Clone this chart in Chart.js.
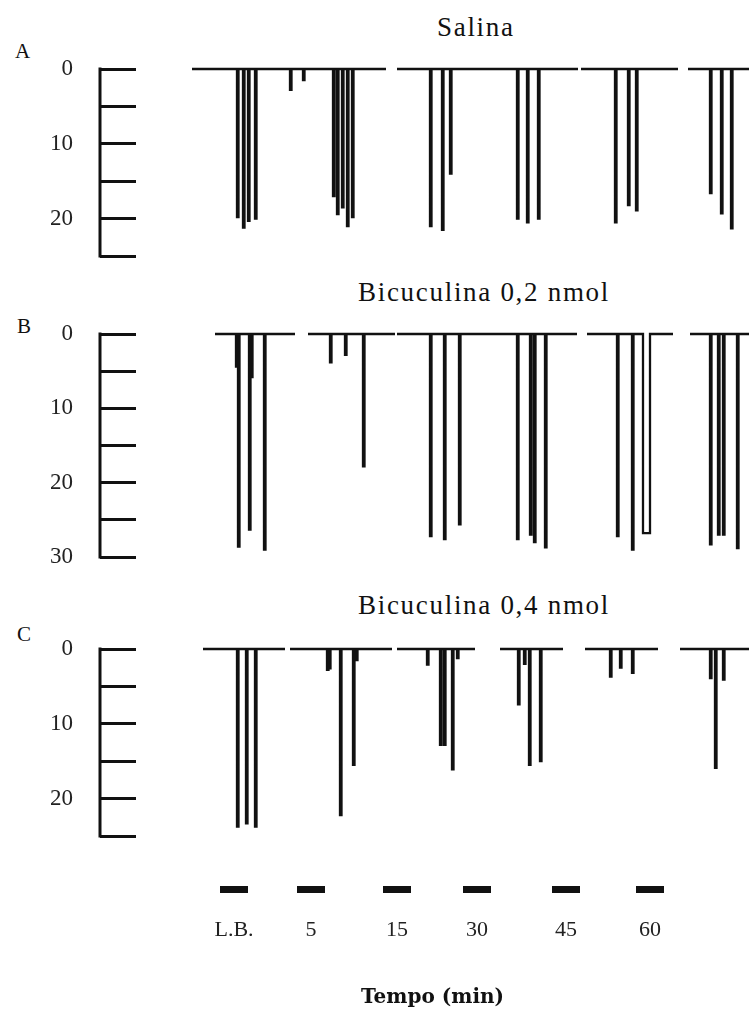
<!DOCTYPE html>
<html>
<head>
<meta charset="utf-8">
<script src="https://cdn.jsdelivr.net/npm/chart.js@4.4.0/dist/chart.umd.min.js"></script>
<style>
  body { margin: 0; background: #fff; width: 749px; height: 1019px; position: relative; overflow: hidden; font-family: 'Liberation Serif', serif; color: #111; }
  canvas { position: absolute; left: 0; }
  .letra { position: absolute; font-size: 21px; line-height: 1; }
  .titulo { position: absolute; font-size: 27px; line-height: 1; letter-spacing: 1.7px; white-space: nowrap; }
</style>
</head>
<body>
<div class="letra" style="left:15px;top:41px">A</div>
<div class="letra" style="left:17px;top:316px">B</div>
<div class="letra" style="left:17px;top:624px">C</div>
<div class="titulo" style="left:437px;top:14px">Salina</div>
<div class="titulo" style="left:358px;top:279px">Bicuculina 0,2 nmol</div>
<div class="titulo" style="left:358px;top:592px">Bicuculina 0,4 nmol</div>

<canvas id="graficoA" width="749" height="297" style="top:0"></canvas>
<canvas id="graficoB" width="749" height="328" style="top:270px"></canvas>
<canvas id="graficoC" width="749" height="297" style="top:580px"></canvas>
<canvas id="graficoTempo" width="749" height="179" style="top:840px"></canvas>

<script>
// janelas de registro (min após a injeção)
const tempos = ['L.B.', '5', '15', '30', '45', '60'];
const centrosJanela = [98, 175, 261, 341, 430, 514];

// Salina: trechos do registro, instante e amplitude de cada deflexão
const salinaSegmentos = [[56, 250], [261, 442], [445, 542], [552, 624]];
const salinaInstantes = [101, 107, 112, 119, 154, 167, 197, 201, 206, 211, 216, 294, 306, 314, 381, 391, 402, 479, 492, 500, 574, 585, 595];
const salinaAmplitudes = [19.8, 21.2, 20.3, 20, 2.8, 1.5, 17, 19.4, 18.5, 21, 19.8, 21, 21.5, 14, 20, 20.5, 20, 20.5, 18.2, 18.9, 16.6, 19.3, 21.3];

// Bicuculina 0,2 nmol
const bic02Segmentos = [[79, 159], [172, 259], [261, 441], [451, 537], [554, 624]];
const bic02Instantes = [100, 102, 113, 115, 128, 194, 209, 227, 294, 308, 323, 381, 394, 398, 409, 481, 496, 507, 574, 582, 587, 601];
const bic02Amplitudes = [4.4, 28.6, 26.3, 5.8, 29, 3.8, 2.8, 17.8, 27.2, 27.6, 25.6, 27.6, 27, 28, 28.7, 27.2, 29, 26.8, 28.3, 27, 27, 28.8];
const bic02Duracoes = [1.5, 1.5, 1.5, 1.5, 1.5, 1.5, 1.5, 1.5, 1.5, 1.5, 1.5, 1.5, 1.5, 1.5, 1.5, 1.5, 1.5, 7, 1.5, 1.5, 1.5, 1.5];

// Bicuculina 0,4 nmol
const bic04Segmentos = [[67, 149], [154, 256], [261, 339], [364, 427], [449, 522], [544, 624]];
const bic04Instantes = [101, 110, 119, 191, 193, 204, 217, 220, 291, 304, 308, 316, 321, 382, 388, 393, 404, 474, 484, 496, 574, 579, 587];
const bic04Amplitudes = [23.75, 23.3, 23.75, 2.8, 2.6, 22.2, 15.5, 1.5, 2.1, 12.8, 12.8, 16.1, 1.2, 7.4, 2, 15.5, 15, 3.7, 2.5, 3.2, 3.9, 15.9, 4.1];

const COR = '#111';

// monta o traço: linha de base em 0 e cada deflexão descendo até a amplitude
function montarTraco(segmentos, instantes, amplitudes, duracoes) {
    const pontos = [];
    segmentos.forEach(([ini, fim]) => {
        pontos.push({ x: ini, y: 0 });
        instantes.forEach((t, i) => {
            if (t > ini && t < fim) {
                const d = duracoes ? duracoes[i] : 1.5;
                pontos.push({ x: t, y: 0 }, { x: t, y: amplitudes[i] },
                    { x: t + d, y: amplitudes[i] }, { x: t + d, y: 0 });
            }
        });
        pontos.push({ x: fim, y: 0 }, { x: fim, y: null });
    });
    return pontos;
}

// barra vertical da escala, à esquerda dos traços
const eixoVertical = {
    id: 'eixoVertical',
    afterDraw(chart) {
        const s = chart.scales.y;
        const x = s.right - s.options.grid.tickLength;
        const ctx = chart.ctx;
        ctx.save();
        ctx.strokeStyle = COR;
        ctx.lineWidth = 3;
        ctx.beginPath();
        ctx.moveTo(x, s.getPixelForValue(s.min) - 1.5);
        ctx.lineTo(x, s.getPixelForValue(s.max) + 1.5);
        ctx.stroke();
        ctx.restore();
    }
};

function criarPainel(id, dados, maxY, padTop) {
    return new Chart(document.getElementById(id), {
        type: 'line',
        data: {
            datasets: [{
                data: dados,
                borderColor: COR,
                borderWidth: 2.3,
                pointRadius: 0,
                tension: 0,
                spanGaps: false,
                clip: false
            }]
        },
        options: {
            responsive: false,
            animation: false,
            layout: { padding: { top: padTop, bottom: 41, left: 0, right: 0 } },
            plugins: {
                legend: { display: false },
                tooltip: { enabled: false }
            },
            scales: {
                x: { type: 'linear', display: false, min: 0, max: 613 },
                y: {
                    reverse: true,
                    min: 0,
                    max: maxY,
                    afterFit: (scale) => { scale.width = 136; },
                    border: { display: false },
                    grid: { drawOnChartArea: false, color: COR, lineWidth: 3, tickLength: 36 },
                    ticks: {
                        stepSize: 5,
                        padding: 27,
                        color: '#222',
                        font: { family: "'Liberation Serif', serif", size: 23 },
                        callback: (v) => (v % 10 === 0 ? v : '')
                    }
                }
            }
        },
        plugins: [eixoVertical]
    });
}

criarPainel('graficoA', montarTraco(salinaSegmentos, salinaInstantes, salinaAmplitudes), 25, 69);
criarPainel('graficoB', montarTraco(bic02Segmentos, bic02Instantes, bic02Amplitudes, bic02Duracoes), 30, 64);
criarPainel('graficoC', montarTraco(bic04Segmentos, bic04Instantes, bic04Amplitudes), 25, 69);

// eixo de tempo com as barras que marcam cada janela
const MEIA_BARRA = 14;
const barrasJanela = centrosJanela.flatMap(c => [
    { x: c - MEIA_BARRA, y: 0 }, { x: c + MEIA_BARRA, y: 0 }, { x: c + MEIA_BARRA, y: null }
]);

new Chart(document.getElementById('graficoTempo'), {
    type: 'line',
    data: {
        datasets: [{
            data: barrasJanela,
            borderColor: COR,
            borderWidth: 7,
            pointRadius: 0,
            spanGaps: false,
            clip: false
        }]
    },
    options: {
        responsive: false,
        animation: false,
        layout: { padding: { left: 136, right: 20, top: 43, bottom: 8 } },
        plugins: {
            legend: { display: false },
            tooltip: { enabled: false },
            title: {
                display: true,
                position: 'bottom',
                text: 'Tempo (min)',
                color: COR,
                font: { family: "'DejaVu Serif', serif", size: 20, weight: 'bold' },
                padding: { top: 30, bottom: 1 }
            }
        },
        scales: {
            x: {
                type: 'linear',
                min: 0,
                max: 593,
                border: { display: false },
                grid: { display: false, drawTicks: false },
                afterBuildTicks: (scale) => { scale.ticks = centrosJanela.map(v => ({ value: v })); },
                afterFit: (scale) => { scale.height = 60; },
                ticks: {
                    autoSkip: false,
                    maxRotation: 0,
                    padding: 21,
                    color: '#222',
                    font: { family: "'Liberation Serif', serif", size: 22 },
                    callback: (v, i) => tempos[i]
                }
            },
            y: { display: false, min: -1, max: 1 }
        }
    }
});
</script>
</body>
</html>
